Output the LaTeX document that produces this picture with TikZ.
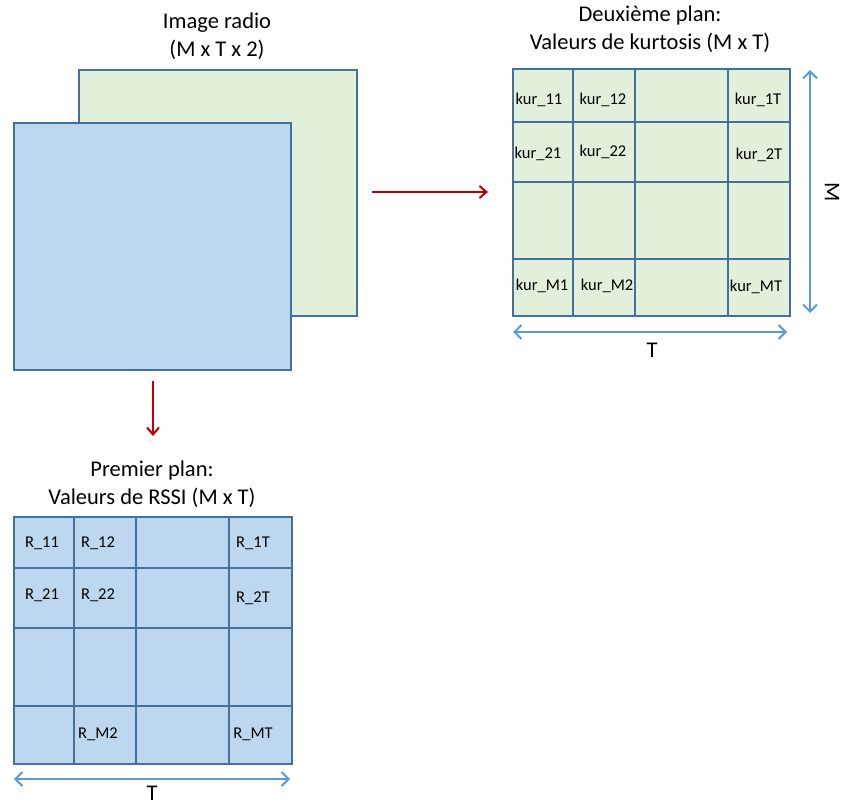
\documentclass[tikz,border=0pt]{standalone}
\usepackage{fontspec}
\setmainfont{Carlito}
\usetikzlibrary{arrows.meta}
\definecolor{bluefill}{HTML}{BDD7EE}
\definecolor{greenfill}{HTML}{E2EFDA}
\definecolor{edge}{HTML}{41719C}
\definecolor{lblue}{HTML}{5B9BD5}
\definecolor{darkred}{HTML}{C00000}
\tikzset{
  plane/.style={draw=edge, line width=1.6pt},
  gridline/.style={draw=edge, line width=2pt},
  title/.style={align=center, font=\fontsize{22.5}{28}\selectfont, inner sep=0pt},
  cell/.style={font=\fontsize{16.5}{19}\selectfont, inner sep=0pt},
  redarrow/.style={draw=darkred, line width=2pt, -{Straight Barb[length=7pt,width=12pt,line width=2pt]}},
  dimarrow/.style={draw=lblue, line width=2pt, {Straight Barb[length=7pt,width=14pt,line width=2pt]}-{Straight Barb[length=7pt,width=14pt,line width=2pt]}},
}
\begin{document}
\begin{tikzpicture}[x=1pt,y=-1pt]
\useasboundingbox (0,0) rectangle (842,806);
% radio image planes
\node[plane, fill=greenfill, minimum width=278pt, minimum height=246pt, inner sep=0pt, anchor=north west] (back) at (78,69) {};
\node[plane, fill=bluefill, minimum width=277pt, minimum height=247pt, inner sep=0pt, anchor=north west] (front) at (13,122) {};
\node[title] (ttl0) at (217,36) {Image radio\\(M x T x 2)};

% arrows
\coordinate (r1) at (372,192);
\coordinate (r2) at (488,192);
\draw[redarrow] (r1) -- (r2);
\coordinate (d1) at (153,381);
\coordinate (d2) at (153,436);
\draw[redarrow] (d1) -- (d2);

% right grid (kurtosis)
\node[title] (ttl1) at (650,29) {Deuxième plan:\\Valeurs de kurtosis (M x T)};
\node[gridline, fill=greenfill, minimum width=277pt, minimum height=247pt, inner sep=0pt, anchor=north west] (kgrid) at (512,68) {};
\draw[gridline] (573,68) -- (573,315) (635,68) -- (635,315) (728,68) -- (728,315);
\draw[gridline] (512,122) -- (789,122) (512,182) -- (789,182) (512,259) -- (789,259);
\node[cell] (k11) at (539,100) {kur\_11};
\node[cell] (k12) at (603,100) {kur\_12};
\node[cell] (k1T) at (758,100) {kur\_1T};
\node[cell] (k21) at (538,154) {kur\_21};
\node[cell] (k22) at (603,152) {kur\_22};
\node[cell] (k2T) at (759,155) {kur\_2T};
\node[cell] (kM1) at (542,286) {kur\_M1};
\node[cell] (kM2) at (607,286) {kur\_M2};
\node[cell] (kMT) at (756,287) {kur\_MT};
\coordinate (kv1) at (810,70);
\coordinate (kv2) at (810,313);
\draw[dimarrow] (kv1) -- (kv2);
\node[font=\fontsize{22.5}{28}\selectfont, rotate=-90, inner sep=0pt] (kM) at (832,192) {M};
\coordinate (kh1) at (513,332);
\coordinate (kh2) at (787,332);
\draw[dimarrow] (kh1) -- (kh2);
\node[font=\fontsize{22.5}{28}\selectfont, inner sep=0pt] (kT) at (652,350) {T};

% left grid (RSSI)
\node[title] (ttl2) at (152,484) {Premier plan:\\Valeurs de RSSI (M x T)};
\node[gridline, fill=bluefill, minimum width=278pt, minimum height=247pt, inner sep=0pt, anchor=north west] (rgrid) at (13,516) {};
\draw[gridline] (74,516) -- (74,763) (136,516) -- (136,763) (229,516) -- (229,763);
\draw[gridline] (13,568) -- (291,568) (13,628) -- (291,628) (13,706) -- (291,706);
\node[cell] (r11) at (42,543) {R\_11};
\node[cell] (r12) at (98,543) {R\_12};
\node[cell] (r1T) at (253,543) {R\_1T};
\node[cell] (r21) at (42,595) {R\_21};
\node[cell] (r22) at (98,595) {R\_22};
\node[cell] (r2T) at (253,598) {R\_2T};
\node[cell] (rM2) at (98,734) {R\_M2};
\node[cell] (rMT) at (253,734) {R\_MT};
\coordinate (rh1) at (14,779);
\coordinate (rh2) at (290,779);
\draw[dimarrow] (rh1) -- (rh2);
\node[font=\fontsize{22.5}{28}\selectfont, inner sep=0pt] (rT) at (152,793) {T};
\end{tikzpicture}
\end{document}
